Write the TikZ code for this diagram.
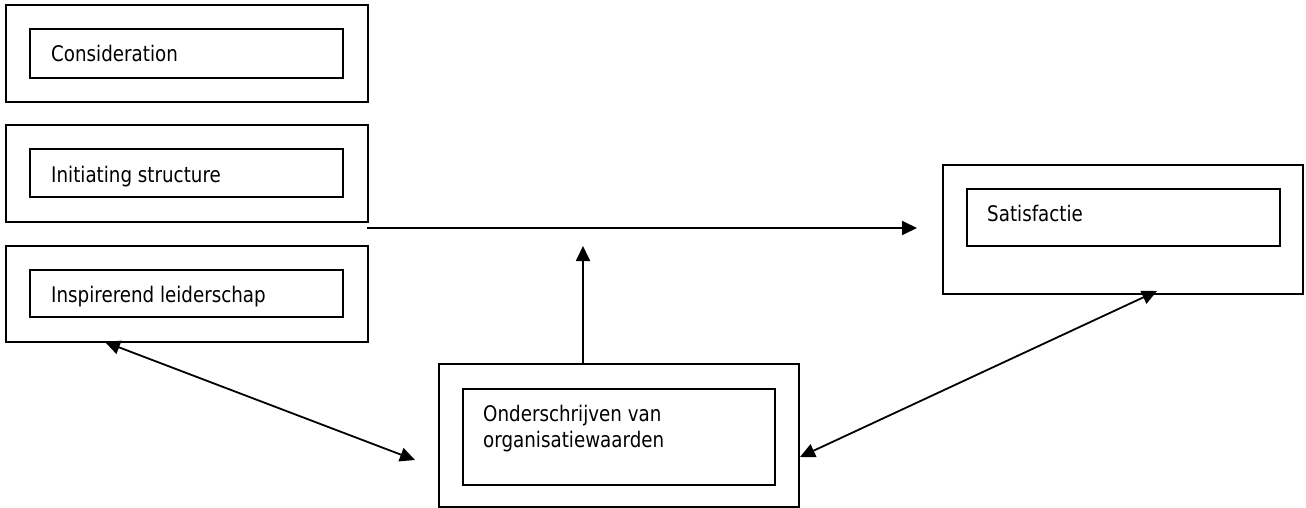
\documentclass[tikz,border=0pt]{standalone}
\usepackage{fontspec}
\setmainfont{DejaVu Sans}[FakeStretch=0.85]
\usetikzlibrary{arrows.meta,calc}
\begin{document}
\begin{tikzpicture}[x=1pt,y=-1pt,
  boxline/.style={draw=black,line width=2pt,rectangle,inner sep=0pt,outer sep=0pt},
  label/.style={anchor=base west,inner sep=0pt,font=\fontsize{21.5pt}{26pt}\selectfont},
  conn/.style={line width=1.8pt,-{Triangle[length=15pt,width=14pt]}},
  dconn/.style={line width=1.8pt,{Triangle[length=15pt,width=14pt]}-{Triangle[length=15pt,width=14pt]}}]
\useasboundingbox (0,0) rectangle (1306,508);
% left column
\node[boxline,minimum width=362pt,minimum height=97pt] (c1o) at (187,53.5) {};
\node[boxline,minimum width=313pt,minimum height=49pt] (c1i) at (186.5,53.5) {};
\node[label] (c1t) at (51,62) {Consideration};
\node[boxline,minimum width=362pt,minimum height=97pt] (c2o) at (187,173.5) {};
\node[boxline,minimum width=313pt,minimum height=48pt] (c2i) at (186.5,173) {};
\node[label] (c2t) at (51,182) {Initiating structure};
\node[boxline,minimum width=362pt,minimum height=96pt] (c3o) at (187,294) {};
\node[boxline,minimum width=313pt,minimum height=47pt] (c3i) at (186.5,293.5) {};
\node[label] (c3t) at (51,302) {Inspirerend leiderschap};
% mediator
\node[boxline,minimum width=360pt,minimum height=143pt] (mo) at (619,435.5) {};
\node[boxline,minimum width=312pt,minimum height=96pt] (mi) at (619,437) {};
\node[label] (mt1) at (483,421) {Onderschrijven van};
\node[label] (mt2) at (483,447) {organisatiewaarden};
% outcome
\node[boxline,minimum width=360pt,minimum height=129pt] (so) at (1123,229.5) {};
\node[boxline,minimum width=313pt,minimum height=57pt] (si) at (1123.5,217.5) {};
\node[label] (st) at (987,221) {Satisfactie};
% connector end points
\coordinate (h0) at ($(c2o.south east)+(-1,6)$);
\coordinate (h1) at (917,228);
\coordinate (v0) at ($(mo.north west)+(144,0)$);
\coordinate (v1) at (583,246);
\coordinate (a0) at (105,342);
\coordinate (a1) at (415,460);
\coordinate (b0) at ($(mo.east)+(1,21.5)$);
\coordinate (b1) at (1157,291);
\draw[conn] (h0) -- (h1);
\draw[conn] (v0) -- (v1);
\draw[dconn] (a0) -- (a1);
\draw[dconn] (b0) -- (b1);
\end{tikzpicture}
\end{document}
